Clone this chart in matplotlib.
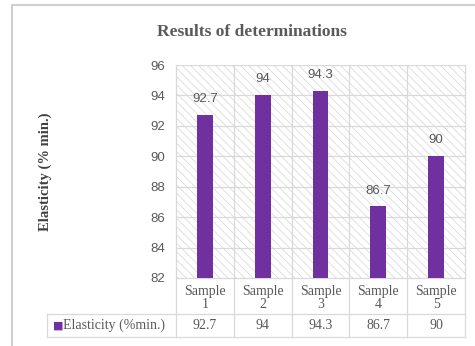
import matplotlib.pyplot as plt
import matplotlib.transforms as mtransforms
from matplotlib.patches import Rectangle
from matplotlib.lines import Line2D

samples = ["Sample\n1", "Sample\n2", "Sample\n3", "Sample\n4", "Sample\n5"]
elasticity = [92.7, 94, 94.3, 86.7, 90]
value_text = ["92.7", "94", "94.3", "86.7", "90"]
series_name = "Elasticity (%min.)"
y_ticks = [82, 84, 86, 88, 90, 92, 94, 96]

BAR = "#7030A0"
TEXT = "#595959"
GRID = "#d9d9d9"
SERIF = "Liberation Serif"
SANS = "Liberation Sans"

W, H = 475, 346
fig = plt.figure(figsize=(W / 100, H / 100), dpi=100)

# outer chart frame
fig.patches.append(Rectangle((12 / W, -0.1), 1.2, 1 - 5 / H + 0.1, transform=fig.transFigure,
                             fill=False, edgecolor="#d0d0d0", lw=1.5))

left, right, top, bottom = 176, 465, 65, 278
ax = fig.add_axes([left / W, 1 - bottom / H, (right - left) / W, (bottom - top) / H])
ax.set_xlim(-0.5, 4.5)
ax.set_ylim(82, 96)
ax.set_facecolor("white")

# hatched plot area background
plt.rcParams["hatch.linewidth"] = 0.5
ax.add_patch(Rectangle((0, 0), 1, 1, transform=ax.transAxes, facecolor="white",
                       edgecolor="#d4d4d4", hatch="\\\\\\\\", lw=0, zorder=0))

for y in y_ticks[1:]:
    ax.axhline(y, color=GRID, lw=0.9, zorder=1)

x = list(range(len(samples)))
ax.bar(x, elasticity, width=0.27, color=BAR, zorder=3)

for xi, v, t in zip(x, elasticity, value_text):
    ax.annotate(t, (xi, v), xytext=(0, 11.5), textcoords="offset points",
                ha="center", va="center", fontsize=9.5, color=TEXT, family=SANS, zorder=4)

ax.set_yticks(y_ticks)
ax.set_yticklabels([str(t) for t in y_ticks], fontsize=9.5, color=TEXT, family=SANS)
ax.tick_params(axis="y", length=0, pad=8)
ax.set_xticks(x)
ax.set_xticklabels(samples, fontsize=10, color=TEXT, family=SERIF, linespacing=1.05)
ax.tick_params(axis="x", length=0, pad=5)

for s in ax.spines.values():
    s.set_visible(False)

# data table under the axis
blend = mtransforms.blended_transform_factory(ax.transData, ax.transAxes)
ph = bottom - top
t_top = -(314 - bottom) / ph
t_bot = -(337 - bottom) / ph
x_cell = -0.5 - (left - 47) / ((right - left) / 5)

for xb in [-0.5, 0.5, 1.5, 2.5, 3.5, 4.5]:
    ax.add_line(Line2D([xb, xb], [t_bot, 1], transform=blend, color=GRID, lw=0.9,
                       clip_on=False, zorder=2))
ax.add_line(Line2D([-0.5, 4.5], [0, 0], transform=blend, color=GRID, lw=0.9, clip_on=False, zorder=2))
for yb in [t_top, t_bot]:
    ax.add_line(Line2D([x_cell, 4.5], [yb, yb], transform=blend, color=GRID, lw=0.9,
                       clip_on=False))
ax.add_line(Line2D([x_cell, x_cell], [t_bot, t_top], transform=blend, color=GRID, lw=0.9,
                   clip_on=False))

t_mid = (t_top + t_bot) / 2
for xi, t in zip(x, value_text):
    ax.text(xi, t_mid, t, transform=blend, ha="center", va="center", fontsize=10,
            color=TEXT, family=SERIF)
ax.text(x_cell + 0.1, t_mid, "\u25a0", transform=blend, ha="left", va="center",
        fontsize=8, color=BAR, family="DejaVu Sans")
ax.text(x_cell + 0.27, t_mid, series_name, transform=blend, ha="left", va="center",
        fontsize=10, color=TEXT, family=SERIF)

fig.text(252 / W, 1 - 32 / H, "Results of determinations", ha="center", va="center",
         fontsize=12.5, fontweight="bold", color=TEXT, family=SERIF)
fig.text(45 / W, 1 - 172 / H, "Elasticity (% min.)", ha="center", va="center",
         rotation=90, fontsize=10.5, fontweight="bold", color="#404040", family=SERIF)

fig.savefig("out.png", dpi=100)
